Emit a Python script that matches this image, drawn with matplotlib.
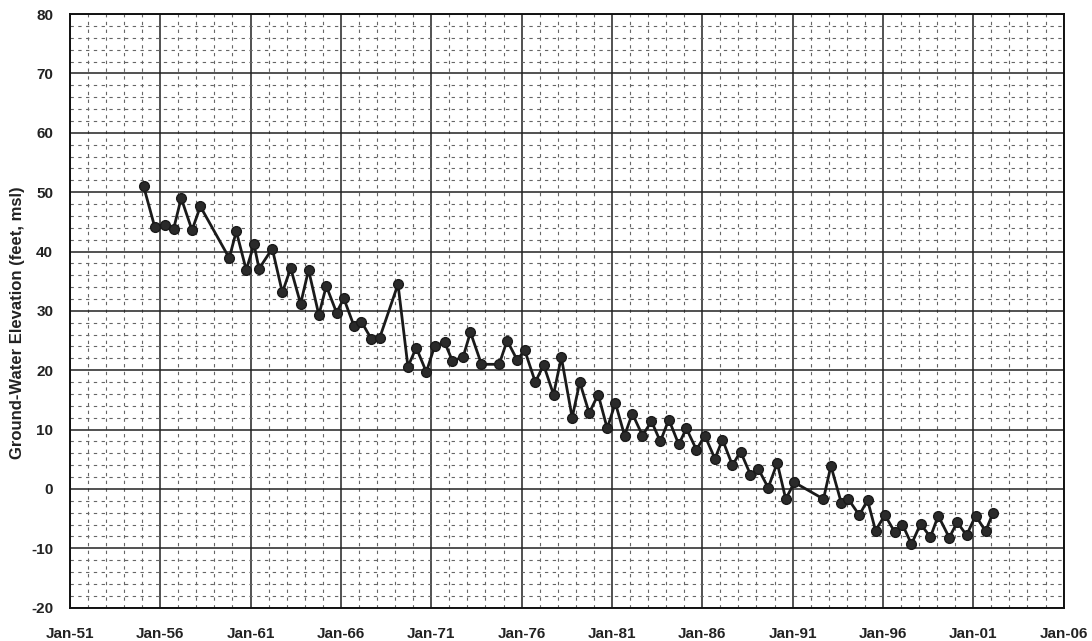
import numpy as np
import matplotlib.pyplot as plt
from matplotlib.ticker import MultipleLocator, FixedLocator

# decimal years of each measurement and the ground-water elevation (feet, msl)
years = [1955.08, 1955.69, 1956.24, 1956.74, 1957.16, 1957.76, 1958.22, 1959.82,
         1960.21, 1960.76, 1961.19, 1961.47, 1962.20, 1962.76, 1963.22, 1963.77,
         1964.21, 1964.78, 1965.19, 1965.76, 1966.16, 1966.72, 1967.13, 1967.68,
         1968.14, 1969.16, 1969.71, 1970.17, 1970.73, 1971.19, 1971.74, 1972.17,
         1972.76, 1973.17, 1973.78, 1974.76, 1975.20, 1975.76, 1976.17, 1976.76,
         1977.22, 1977.77, 1978.20, 1978.80, 1979.22, 1979.74, 1980.24, 1980.74,
         1981.19, 1981.70, 1982.13, 1982.69, 1983.19, 1983.68, 1984.15, 1984.70,
         1985.12, 1985.68, 1986.14, 1986.70, 1987.12, 1987.67, 1988.12, 1988.67,
         1989.10, 1989.65, 1990.15, 1990.62, 1991.10, 1992.71, 1993.12, 1993.70,
         1994.08, 1994.69, 1995.15, 1995.59, 1996.11, 1996.66, 1997.08, 1997.58,
         1998.08, 1998.63, 1999.06, 1999.67, 2000.11, 2000.63, 2001.13, 2001.68,
         2002.10]
elevation = [51.0, 44.2, 44.5, 43.8, 49.0, 43.6, 47.6, 38.9,
             43.4, 36.9, 41.2, 37.1, 40.5, 33.1, 37.2, 31.2,
             36.9, 29.3, 34.2, 29.7, 32.1, 27.5, 28.2, 25.3,
             25.4, 34.5, 20.6, 23.8, 19.7, 24.1, 24.7, 21.6,
             22.2, 26.4, 21.0, 21.0, 25.0, 21.7, 23.4, 18.0,
             20.9, 15.9, 22.2, 12.0, 18.0, 12.8, 15.9, 10.2,
             14.5, 9.0, 12.7, 9.0, 11.4, 8.0, 11.7, 7.5,
             10.2, 6.6, 9.0, 5.1, 8.3, 4.0, 6.3, 2.4,
             3.4, 0.2, 4.4, -1.7, 1.1, -1.7, 3.9, -2.4,
             -1.7, -4.4, -1.9, -7.0, -4.4, -7.3, -6.0, -9.3,
             -5.9, -8.1, -4.5, -8.2, -5.6, -7.8, -4.5, -7.1,
             -4.0]

tick_years = [1951, 1956, 1961, 1966, 1971, 1976, 1981, 1986, 1991, 1996, 2001, 2006]
tick_labels = ['Jan-%02d' % (y % 100) for y in tick_years]

plt.rcParams['font.family'] = ['Liberation Sans', 'DejaVu Sans']
plt.rcParams['axes.unicode_minus'] = False

fig = plt.figure(figsize=(10.92, 6.41), dpi=100)
ax = fig.add_axes([0.064, 0.052, 0.910, 0.926])

ax.set_xlim(1951, 2006)
ax.set_ylim(-20, 80)

ax.xaxis.set_major_locator(FixedLocator(tick_years))
ax.set_xticklabels(tick_labels)
ax.xaxis.set_minor_locator(MultipleLocator(1))
ax.yaxis.set_major_locator(MultipleLocator(10))
ax.yaxis.set_minor_locator(MultipleLocator(2))

# graph-paper style grid
ax.grid(which='major', color='#222222', linewidth=1.1, linestyle='-')
ax.grid(which='minor', color='#666666', linewidth=0.8, linestyle=(0, (3, 4)))
ax.set_axisbelow(True)

ax.plot(years, elevation, color='#1a1a1a', linewidth=2.0,
        marker='o', markersize=7, markerfacecolor='#2a2a2a',
        markeredgecolor='#1a1a1a', zorder=3)

ax.tick_params(which='both', length=0)
ax.tick_params(axis='x', pad=14, labelsize=11)
ax.tick_params(axis='y', pad=12, labelsize=11)
for lab in ax.get_xticklabels() + ax.get_yticklabels():
    lab.set_fontweight('bold')
    lab.set_color('#222222')

for sp in ax.spines.values():
    sp.set_linewidth(1.4)
    sp.set_color('#111111')

ax.set_ylabel('Ground-Water Elevation (feet, msl)', fontsize=12,
              fontweight='bold', color='#222222')
ax.yaxis.set_label_coords(-0.045, 0.48)

fig.savefig('out.png', dpi=100, facecolor='white')
